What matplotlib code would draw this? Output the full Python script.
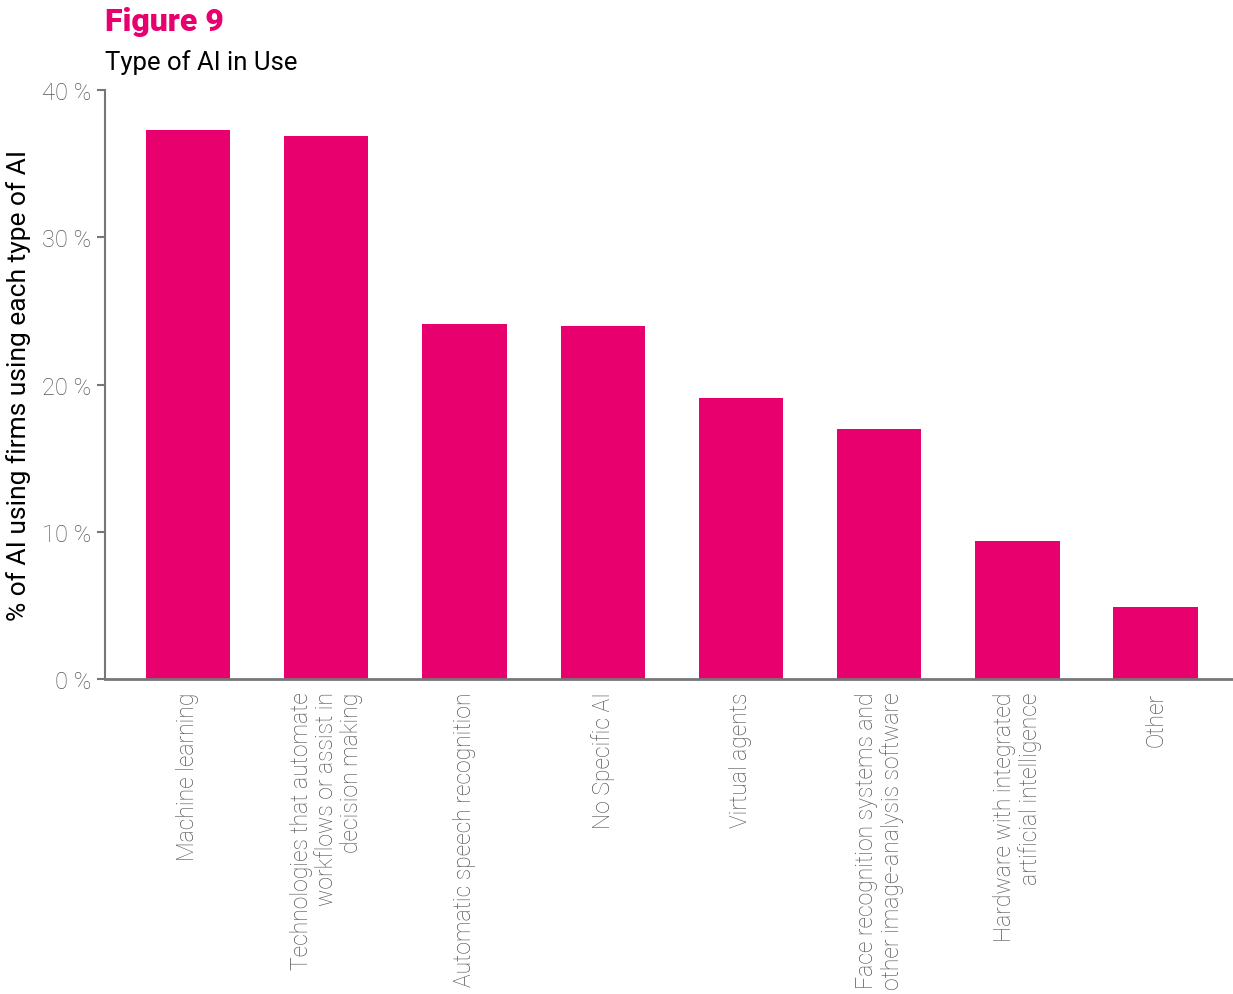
import matplotlib.pyplot as plt
import numpy as np

# data
categories = [
    "Machine learning",
    "Technologies that automate\nworkflows or assist in\ndecision making",
    "Automatic speech recognition",
    "No Specific AI",
    "Virtual agents",
    "Face recognition systems and\nother image-analysis software",
    "Hardware with integrated\nartificial intelligence",
    "Other",
]
share_pct = [37.3, 36.9, 24.1, 24.0, 19.1, 17.0, 9.4, 4.9]
y_ticks = [0, 10, 20, 30, 40]
y_tick_labels = ["0 %", "10 %", "20 %", "30 %", "40 %"]

MAGENTA = "#E8006F"
GREY = "#555555"

plt.rcParams['font.family'] = ['Roboto', 'DejaVu Sans']

fig = plt.figure(figsize=(12.33, 9.95), dpi=100)
ax = fig.add_axes([0.0852, 0.3166, 0.9148, 0.5919])

x = np.arange(len(categories))
ax.bar(x, share_pct, width=0.61, color=MAGENTA)

ax.set_xlim(-0.6, 7.56)
ax.set_ylim(0, 40)
ax.set_yticks(y_ticks)
ax.set_yticklabels(y_tick_labels, fontsize=17, color=GREY, fontweight='light')
ax.set_xticks(x)
ax.set_xticklabels(categories, rotation=90, fontsize=16.5, color=GREY,
                   fontweight='light', ha='center', va='top',
                   multialignment='right', linespacing=1.1)
ax.tick_params(axis='x', length=0, pad=9)
ax.tick_params(axis='y', length=6, width=1.5, color='#777777', pad=4)

for side in ['top', 'right']:
    ax.spines[side].set_visible(False)
ax.spines['left'].set_color('#777777')
ax.spines['left'].set_linewidth(1.5)
ax.spines['bottom'].set_color('#777777')
ax.spines['bottom'].set_linewidth(2)

ax.set_ylabel("% of AI using firms using each type of AI", fontsize=19,
              color='black', labelpad=8)

fig.text(0.0852, 0.978, "Figure 9", fontsize=23, fontweight='heavy',
         color=MAGENTA, va='center', ha='left')
fig.text(0.0852, 0.937, "Type of AI in Use", fontsize=18.5, color='black',
         va='center', ha='left')

fig.savefig("out.png", dpi=100)
